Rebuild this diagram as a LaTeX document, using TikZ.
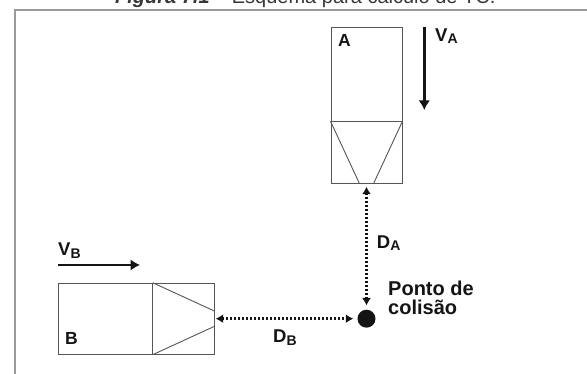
\documentclass[tikz,border=0pt]{standalone}
\usepackage{fontspec}
\setmainfont{Liberation Sans}
\usetikzlibrary{arrows.meta,calc}
\definecolor{framegray}{HTML}{9A9A9A}
\definecolor{boxgray}{HTML}{555555}
\definecolor{ink}{HTML}{141414}
\newcommand\lowsub[1]{{\fontsize{14}{16}\selectfont\raisebox{-2.3pt}{#1}}}
\begin{document}
\begin{tikzpicture}[x=1pt,y=-1pt,
  vehicle/.style={draw=boxgray, line width=1pt, inner sep=0pt},
  lbl/.style={inner sep=0pt, anchor=base west, text=ink, font=\bfseries\fontsize{17.5}{20}\selectfont},
  sym/.style={inner sep=0pt, anchor=base west, text=ink, font=\bfseries\fontsize{18.5}{22}\selectfont},
  vel/.style={draw=ink, line width=2.7pt, -{Latex[length=9.5pt,width=11.5pt]}},
  dist/.style={draw=ink, line width=2.7pt, dash pattern=on 2pt off 2pt, {Latex[length=7.5pt,width=9pt]}-{Latex[length=7.5pt,width=9pt]}},
  facet/.style={draw=boxgray, line width=0.9pt}
]
\useasboundingbox (0,0) rectangle (587,374);
\node[anchor=base west, inner sep=0pt, text=ink!85, font=\fontsize{20}{24}\selectfont] (title) at (115,4) {\textbf{\textit{Figura 7.1}} – Esquema para cálculo de TC.};
\draw[framegray, line width=1.4pt] (15,374) -- (15,10) -- (587,10);

% vehicle A
\node[vehicle, minimum width=71pt, minimum height=156pt] (A) at (366.5,105.2) {};
\draw[facet] ($(A.north west)+(0,94.5)$) coordinate (a1) -- ($(A.north east)+(0,94.5)$) coordinate (a2);
\draw[facet] (a1) -- ($(A.south)+(-7,0)$);
\draw[facet] (a2) -- ($(A.south)+(7,0)$);

% vehicle B
\node[vehicle, minimum width=156pt, minimum height=71pt] (B) at (136.2,318.7) {};
\draw[facet] ($(B.north west)+(95,0)$) coordinate (b1) -- ($(B.south west)+(95,0)$) coordinate (b2);
\draw[facet] (b1) -- ($(B.east)+(0,-7.5)$);
\draw[facet] (b2) -- ($(B.east)+(0,7.5)$);

% collision point
\node[circle, fill=ink, minimum size=18pt, inner sep=0pt] (P) at (366.5,318.7) {};

% distances
\draw[dist, shorten <=3pt, shorten >=4pt] (A.south) -- (P.north);
\draw[dist, shorten <=1pt, shorten >=4pt] (B.east) -- (P.west);

% velocities
\coordinate (vaS) at (424.3,27);
\coordinate (vaE) at (424.3,110);
\draw[vel] (vaS) -- (vaE);
\coordinate (vbS) at (58,265);
\coordinate (vbE) at (140,265);
\draw[vel] (vbS) -- (vbE);

% labels
\node[lbl] (Alab) at (338,46.7) {A};
\node[lbl] (Blab) at (65,344.3) {B};
\node[sym] (VA) at (435,41.7) {V\lowsub{A}};
\node[sym] (VB) at (58,256) {V\lowsub{B}};
\node[sym] (DA) at (376.7,248.3) {D\lowsub{A}};
\node[sym] (DB) at (273,343) {D\lowsub{B}};
\node[lbl, font=\bfseries\fontsize{20}{19}\selectfont, align=left] (PC) at (388,315) {Ponto de\\colisão};
\end{tikzpicture}
\end{document}
